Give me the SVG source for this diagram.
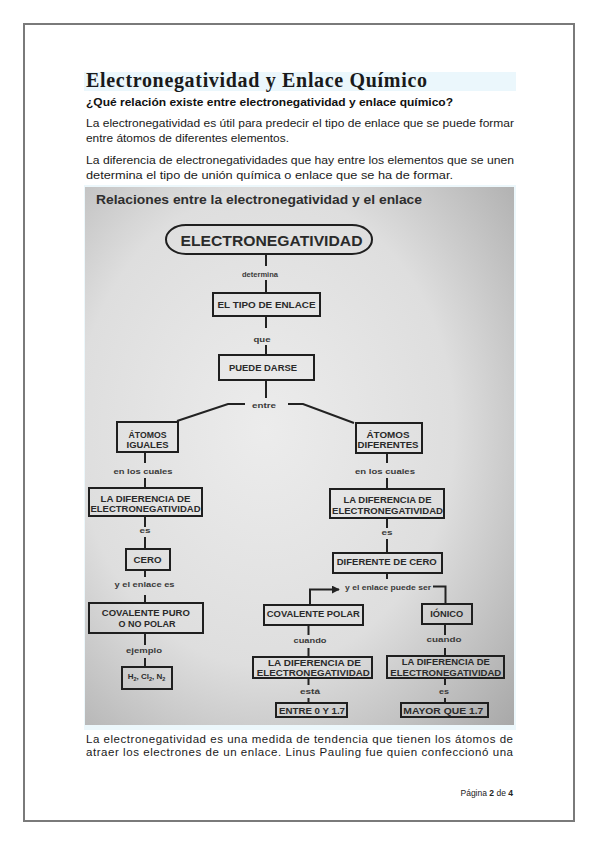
<svg xmlns="http://www.w3.org/2000/svg" width="599" height="848" viewBox="0 0 599 848">
<defs>
<radialGradient id="bg" cx="0.42" cy="0.45" r="0.8">
<stop offset="0" stop-color="#ececec"/>
<stop offset="0.55" stop-color="#dedede"/>
<stop offset="1" stop-color="#a8a8a8"/>
</radialGradient>
<marker id="arr" viewBox="0 0 10 10" refX="9" refY="5" markerWidth="4" markerHeight="4" orient="auto" markerUnits="strokeWidth">
<path d="M0,0 L10,5 L0,10 Z" fill="#222"/>
</marker>
<style>
.pg{fill:#fff;stroke:#7a7a7a;stroke-width:2}
.ttl{font-family:"Liberation Serif",serif;font-weight:bold;font-size:20px;fill:#1a1a1a}
.sub{font-family:"Liberation Sans",Arial,sans-serif;font-weight:bold;font-size:11.5px;fill:#111}
.body{font-family:"Liberation Sans",Arial,sans-serif;font-size:11.5px;fill:#1a1a1a}
.imgt{font-family:"Liberation Sans",Arial,sans-serif;font-weight:bold;font-size:13.5px;fill:#2e2e2e}
.box{fill:none;stroke:#1f1f1f;stroke-width:2}
.bt{font-family:"Liberation Sans",Arial,sans-serif;font-weight:bold;font-size:8.5px;fill:#2a2a2a;text-anchor:middle}
.lt{font-family:"Liberation Sans",Arial,sans-serif;font-weight:bold;font-size:7.5px;fill:#3a3a3a;text-anchor:middle}
.ln{fill:none;stroke:#222;stroke-width:2}
.ft{font-family:"Liberation Sans",Arial,sans-serif;font-size:8.5px;fill:#222;text-anchor:end}
</style>
</defs>
<rect x="0" y="0" width="599" height="848" fill="#fff"/>
<rect class="pg" x="24" y="24" width="550" height="797"/>
<rect x="84" y="72" width="432" height="19" fill="#ebf7fc"/>
<text class="ttl" x="86" y="87" textLength="341" lengthAdjust="spacing">Electronegatividad y Enlace Químico</text>
<text class="sub" x="86" y="106" textLength="367" lengthAdjust="spacingAndGlyphs">¿Qué relación existe entre electronegatividad y enlace químico?</text>
<text class="body" x="86" y="127" textLength="428" lengthAdjust="spacingAndGlyphs">La electronegatividad es útil para predecir el tipo de enlace que se puede formar</text>
<text class="body" x="86" y="142" textLength="203" lengthAdjust="spacingAndGlyphs">entre átomos de diferentes elementos.</text>
<text class="body" x="86" y="164" textLength="428" lengthAdjust="spacingAndGlyphs">La diferencia de electronegatividades que hay entre los elementos que se unen</text>
<text class="body" x="86" y="179" textLength="367" lengthAdjust="spacingAndGlyphs">determina el tipo de unión química o enlace que se ha de formar.</text>
<rect x="84" y="185" width="432" height="545" fill="#ecf7fb"/>
<rect x="85" y="187" width="429" height="538" fill="url(#bg)"/>
<text class="imgt" x="96" y="204" textLength="326" lengthAdjust="spacingAndGlyphs">Relaciones entre la electronegatividad y el enlace</text>

<g id="connectors">
<path class="ln" d="M266,254 V266 M266,280 V293"/>
<path class="ln" d="M266,316 V328 M266,345 V355"/>
<path class="ln" d="M266,380 V398"/>
<polyline class="ln" points="245,404 228,404 177,421"/>
<polyline class="ln" points="288,404 303,404 354,423"/>
<path class="ln" d="M145,452 V463 M145,478 V488 M145,516 V527 M145,537 V549 M145,570 V577 M145,595 V603 M145,633 V645 M145,658 V667"/>
<path class="ln" d="M387,453 V463 M387,478 V489 M387,518 V528 M387,539 V553 M387,573 V579"/>
<polyline class="ln" points="310,605 310,589.5 339,589.5" marker-end="url(#arr)"/>
<polyline class="ln" points="433,586.5 445.5,586.5 445.5,604"/>
<path class="ln" d="M308.5,625 V635 M308.5,648 V657 M308.5,678 V685 M308.5,698 V703"/>
<path class="ln" d="M445,624 V635 M445,648 V656 M445,678 V685 M445,698 V703"/>
<text class="lt" x="260" y="276.5" textLength="36" lengthAdjust="spacingAndGlyphs">determina</text>
<text class="lt" x="262" y="342" textLength="17" lengthAdjust="spacingAndGlyphs">que</text>
<text class="lt" x="264" y="407.5" textLength="24" lengthAdjust="spacingAndGlyphs">entre</text>
<text class="lt" x="143" y="474" textLength="59" lengthAdjust="spacingAndGlyphs">en los cuales</text>
<text class="lt" x="385" y="474" textLength="60" lengthAdjust="spacingAndGlyphs">en los cuales</text>
<text class="lt" x="145" y="533" textLength="11" lengthAdjust="spacingAndGlyphs">es</text>
<text class="lt" x="387" y="535" textLength="11" lengthAdjust="spacingAndGlyphs">es</text>
<text class="lt" x="144.5" y="587" textLength="60" lengthAdjust="spacingAndGlyphs">y el enlace es</text>
<text class="lt" x="144" y="653" textLength="36" lengthAdjust="spacingAndGlyphs">ejemplo</text>
<text class="lt" x="388" y="590" textLength="86" lengthAdjust="spacingAndGlyphs">y el enlace puede ser</text>
<text class="lt" x="310" y="642.5" textLength="33" lengthAdjust="spacingAndGlyphs">cuando</text>
<text class="lt" x="444" y="642" textLength="35" lengthAdjust="spacingAndGlyphs">cuando</text>
<text class="lt" x="310" y="694" textLength="20" lengthAdjust="spacingAndGlyphs">está</text>
<text class="lt" x="444" y="693.5" textLength="10" lengthAdjust="spacingAndGlyphs">es</text>
</g>

<g id="n-electronegatividad">
<path class="box" d="M186,225 L352,225 C364,225 372,232 372,239.5 C372,247 364,254 352,254 L186,254 C174,254 166,247 166,239.5 C166,232 174,225 186,225 Z"/>
<text class="bt" x="271.5" y="245.5" style="font-size:14px" textLength="182" lengthAdjust="spacingAndGlyphs">ELECTRONEGATIVIDAD</text>
</g>
<g id="n-tipo-enlace">
<rect class="box" x="213" y="293" width="107" height="23"/>
<text class="bt" x="266.5" y="308" textLength="98" lengthAdjust="spacingAndGlyphs">EL TIPO DE ENLACE</text>
</g>
<g id="n-puede-darse">
<rect class="box" x="219" y="355" width="95" height="25"/>
<text class="bt" x="263" y="371" textLength="68" lengthAdjust="spacingAndGlyphs">PUEDE DARSE</text>
</g>
<g id="n-atomos-iguales">
<rect class="box" x="117" y="422" width="61" height="30"/>
<text class="bt" x="147.5" y="437.5" textLength="38" lengthAdjust="spacingAndGlyphs">ÁTOMOS</text>
<text class="bt" x="147.5" y="447.7" textLength="42" lengthAdjust="spacingAndGlyphs">IGUALES</text>
</g>
<g id="n-atomos-diferentes">
<rect class="box" x="356" y="423" width="66" height="30"/>
<text class="bt" x="388" y="437.7" textLength="43" lengthAdjust="spacingAndGlyphs">ÁTOMOS</text>
<text class="bt" x="388" y="448.3" textLength="61" lengthAdjust="spacingAndGlyphs">DIFERENTES</text>
</g>
<g id="n-diferencia-izq">
<rect class="box" x="89" y="488" width="113" height="28"/>
<text class="bt" x="145.5" y="501.5" textLength="90" lengthAdjust="spacingAndGlyphs">LA DIFERENCIA DE</text>
<text class="bt" x="145.5" y="512.3" textLength="110" lengthAdjust="spacingAndGlyphs">ELECTRONEGATIVIDAD</text>
</g>
<g id="n-diferencia-der">
<rect class="box" x="330" y="489" width="114" height="29"/>
<text class="bt" x="387.5" y="503" textLength="88" lengthAdjust="spacingAndGlyphs">LA DIFERENCIA DE</text>
<text class="bt" x="387.5" y="514" textLength="111" lengthAdjust="spacingAndGlyphs">ELECTRONEGATIVIDAD</text>
</g>
<g id="n-cero">
<rect class="box" x="126" y="549" width="44" height="21"/>
<text class="bt" x="147.5" y="563" textLength="28" lengthAdjust="spacingAndGlyphs">CERO</text>
</g>
<g id="n-diferente-cero">
<rect class="box" x="333" y="553" width="109" height="20"/>
<text class="bt" x="386.7" y="564.5" textLength="100" lengthAdjust="spacingAndGlyphs">DIFERENTE DE CERO</text>
</g>
<g id="n-covalente-puro">
<rect class="box" x="89" y="603" width="114" height="30"/>
<text class="bt" x="145.8" y="616" textLength="88" lengthAdjust="spacingAndGlyphs">COVALENTE PURO</text>
<text class="bt" x="147" y="627" textLength="57" lengthAdjust="spacingAndGlyphs">O NO POLAR</text>
</g>
<g id="n-ejemplos">
<rect class="box" x="122" y="667" width="50" height="22"/>
<text class="bt" x="146.5" y="679" style="font-size:8px">H<tspan dy="2" font-size="5.5">2</tspan><tspan dy="-2">, Cl</tspan><tspan dy="2" font-size="5.5">2</tspan><tspan dy="-2">, N</tspan><tspan dy="2" font-size="5.5">2</tspan></text>
</g>
<g id="n-covalente-polar">
<rect class="box" x="264" y="605" width="99" height="20"/>
<text class="bt" x="313.3" y="617" textLength="93" lengthAdjust="spacingAndGlyphs">COVALENTE POLAR</text>
</g>
<g id="n-ionico">
<rect class="box" x="422" y="604" width="50" height="20"/>
<text class="bt" x="446.7" y="616.5" textLength="33" lengthAdjust="spacingAndGlyphs">IÓNICO</text>
</g>
<g id="n-diferencia-polar">
<rect class="box" x="253" y="657" width="119" height="21"/>
<text class="bt" x="314.5" y="665.5" textLength="93" lengthAdjust="spacingAndGlyphs">LA DIFERENCIA DE</text>
<text class="bt" x="313.3" y="676" textLength="113" lengthAdjust="spacingAndGlyphs">ELECTRONEGATIVIDAD</text>
</g>
<g id="n-diferencia-ionico">
<rect class="box" x="387" y="656" width="117" height="22"/>
<text class="bt" x="445.8" y="664.5" textLength="88" lengthAdjust="spacingAndGlyphs">LA DIFERENCIA DE</text>
<text class="bt" x="445.8" y="676" textLength="111" lengthAdjust="spacingAndGlyphs">ELECTRONEGATIVIDAD</text>
</g>
<g id="n-entre">
<rect class="box" x="276" y="703" width="71" height="14"/>
<text class="bt" x="312" y="714" textLength="66" lengthAdjust="spacingAndGlyphs">ENTRE 0 Y 1.7</text>
</g>
<g id="n-mayor">
<rect class="box" x="401" y="703" width="87" height="14"/>
<text class="bt" x="443.3" y="714" textLength="80" lengthAdjust="spacingAndGlyphs">MAYOR QUE 1.7</text>
</g>

<text class="body" x="86" y="742.5" textLength="427" lengthAdjust="spacing">La electronegatividad es una medida de tendencia que tienen los átomos de</text>
<text class="body" x="86" y="756" textLength="427" lengthAdjust="spacing">atraer los electrones de un enlace. Linus Pauling fue quien confeccionó una</text>
<text class="ft" x="513" y="796">Página <tspan font-weight="bold">2</tspan> de <tspan font-weight="bold">4</tspan></text>
</svg>
